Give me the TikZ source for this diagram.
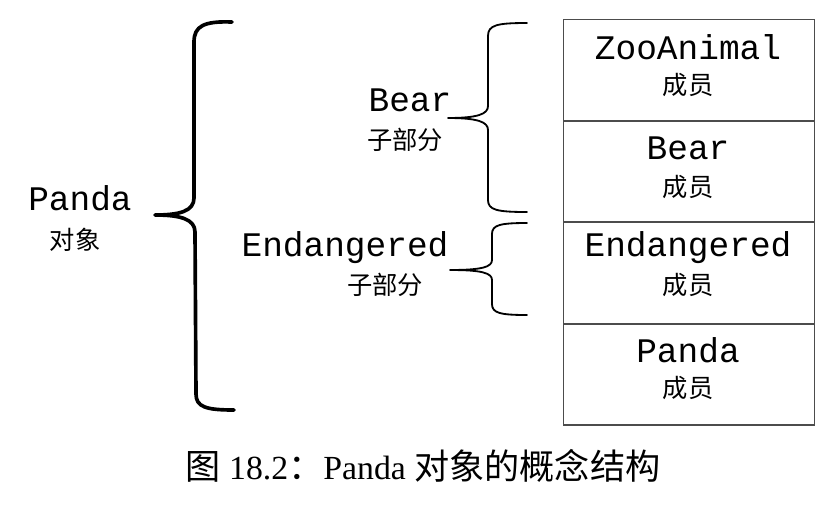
\documentclass[tikz,border=0pt]{standalone}
\usepackage{fontspec}
\setmainfont{Liberation Serif}
\setmonofont{Liberation Mono}
\newfontfamily\cjk{Noto Sans CJK SC}
\usetikzlibrary{positioning}

\begin{document}
\begin{tikzpicture}[
    x=0.025cm, y=-0.025cm,
    cell/.style={draw=black!70, line width=0.8pt, minimum width=251*0.025cm, minimum height=100.5*0.025cm, inner sep=0pt},
    code/.style={font=\ttfamily\fontsize{24.5}{28}\selectfont, inner sep=0pt},
    zh/.style={font=\cjk\fontsize{18}{22}\selectfont, inner sep=0pt},
    bigbrace/.style={line width=2.6pt, line cap=round, line join=round},
    subbrace/.style={line width=1.3pt, line cap=round, line join=round}
]
    \useasboundingbox (0,0) rectangle (840,508);

    % table of members
    \node[cell, anchor=north west] (zoo) at (563,19) {};
    \node[cell, below=0pt of zoo] (bear) {};
    \node[cell, below=0pt of bear] (endg) {};
    \node[cell, below=0pt of endg] (panda) {};

    \node[code] (zootxt) at (688,47) {ZooAnimal};
    \node[zh] (zoomem) at (688,85) {成员};
    \node[code] (beartxt) at (688,148) {Bear};
    \node[zh] (bearmem) at (688,187) {成员};
    \node[code] (endgtxt) at (688,248) {Endangered};
    \node[zh] (endgmem) at (688,285) {成员};
    \node[code] (pandatxt) at (688,350) {Panda};
    \node[zh] (pandamem) at (688,388) {成员};

    % braces
    \draw[bigbrace] (232,22) .. controls (204,21) and (194,26) .. (194,42) -- (194,198)
        .. controls (194,211) and (180,215) .. (155,215)
        .. controls (180,215) and (195,219) .. (195,232) -- (196,394)
        .. controls (196,407) and (206,410) .. (234,410);
    \draw[subbrace] (527,23) .. controls (497,23) and (488,25) .. (488,36) -- (488,106)
        .. controls (488,114) and (478,118) .. (448,118)
        .. controls (478,118) and (488,122) .. (488,130) -- (488,200)
        .. controls (488,210) and (497,212) .. (527,212);
    \draw[subbrace] (527,223) .. controls (500,223) and (492,225) .. (492,234) -- (492,260)
        .. controls (492,267) and (482,270) .. (450,270)
        .. controls (482,270) and (492,273) .. (492,280) -- (492,304)
        .. controls (492,313) and (500,315) .. (527,315);

    % labels
    \node[code] (pandalbl) at (80,198) {Panda};
    \node[zh] (pandaobj) at (75,240) {对象};
    \node[code] (bearlbl) at (410,100) {Bear};
    \node[zh] (bearsub) at (405,140) {子部分};
    \node[code] (endglbl) at (345,248) {Endangered};
    \node[zh] (endgsub) at (385,285) {子部分};

    % caption
    \node[font=\fontsize{24}{28}\selectfont, inner sep=0pt] (cap) at (423,466)
        {{\cjk\fontsize{25}{28}\selectfont 图}\ 18.2{\cjk\fontsize{25}{28}\selectfont ：}Panda\ {\cjk\fontsize{25}{28}\selectfont 对象的概念结构}};
\end{tikzpicture}
\end{document}
